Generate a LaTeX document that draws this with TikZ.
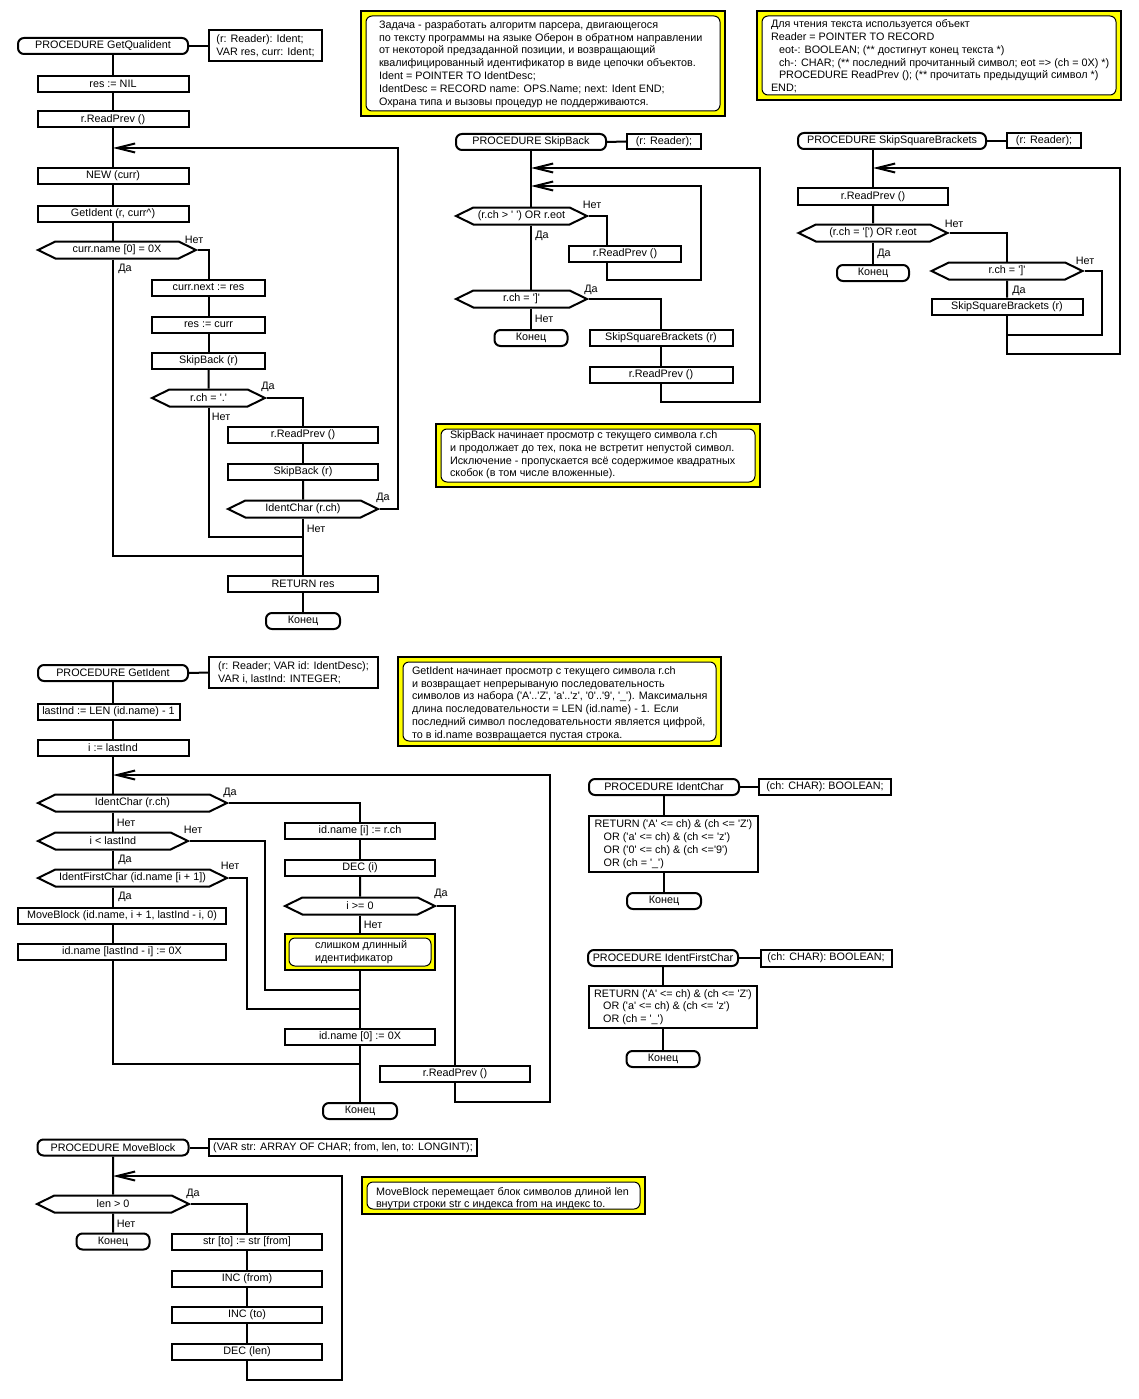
\documentclass[tikz,border=0pt]{standalone}
\usepackage{fontspec}
\newfontfamily\drkfont{Liberation Sans}
\usepackage{tikz}
\usetikzlibrary{shapes.symbols,arrows.meta}
\definecolor{drkyellow}{HTML}{FFFF00}

\begin{document}
\begin{tikzpicture}[x=1pt,y=-1pt,line width=2pt,
  font=\drkfont\fontsize{10.8}{12.8}\selectfont,
  act/.style={draw,rectangle,minimum height=16,inner sep=1pt},
  term/.style={draw,rectangle,rounded corners=6pt,minimum height=16,inner sep=1pt},
  cond/.style={draw,signal,signal to=east and west,signal pointer angle=52,minimum height=17,inner sep=1pt},
  parm/.style={draw,rectangle,align=left,inner sep=2pt},
  noteout/.style={draw,fill=drkyellow,inner sep=0pt},
  notein/.style={draw,line width=1pt,fill=white,rounded corners=6pt},
  notetxt/.style={anchor=west,align=left,inner sep=0pt},
  lbl/.style={inner sep=0pt},
  loopin/.style={-{Straight Barb[length=18pt,width=9pt]}}]
\useasboundingbox (0,0) rectangle (1139,1399);

% notes
\node[noteout,minimum width=364,minimum height=105] (tasknote) at (543,63.5) {};
\draw[notein] ([shift={(6,6)}]tasknote.north west) rectangle ([shift={(-6,-6)}]tasknote.south east);
\node[notetxt] (tasktxt) at (378,63.8) {Задача - разработать алгоритм парсера, двигающегося\\
  по тексту программы на языке Оберон в обратном направлении\\
  от некоторой предзаданной позиции, и возвращающий\\
  квалифицированный идентификатор в виде цепочки объектов.\\
  Ident = POINTER TO IdentDesc;\\
  IdentDesc = RECORD name: OPS.Name; next: Ident END;\\
  Охрана типа и вызовы процедур не поддерживаются.};

\node[noteout,minimum width=364,minimum height=89] (rdnote) at (939,55.5) {};
\draw[notein] ([shift={(6,6)}]rdnote.north west) rectangle ([shift={(-6,-6)}]rdnote.south east);
\node[notetxt] (rdtxt) at (770,56.5) {Для чтения текста используется объект\\
  Reader = POINTER TO RECORD\\
  \hspace*{8pt}eot-: BOOLEAN; (** достигнут конец текста *)\\
  \hspace*{8pt}ch-: CHAR; (** последний прочитанный символ; eot => (ch = 0X) *)\\
  \hspace*{8pt}PROCEDURE ReadPrev (); (** прочитать предыдущий символ *)\\
  END;};

\node[noteout,minimum width=324,minimum height=63] (sbnote) at (598,455.5) {};
\draw[notein] ([shift={(6,6)}]sbnote.north west) rectangle ([shift={(-6,-6)}]sbnote.south east);
\node[notetxt] (sbtxt) at (449,455) {SkipBack начинает просмотр с текущего символа r.ch\\
  и продолжает до тех, пока не встретит непустой символ.\\
  Исключение - пропускается всё содержимое квадратных\\
  скобок (в том числе вложенные).};

\node[noteout,minimum width=323,minimum height=89] (ginote) at (559.5,701.5) {};
\draw[notein] ([shift={(6,6)}]ginote.north west) rectangle ([shift={(-6,-6)}]ginote.south east);
\node[notetxt] (gitxt) at (411,703.5) {GetIdent начинает просмотр с текущего символа r.ch\\
  и возвращает непрерываную последовательность\\
  символов из набора ('A'..'Z', 'a'..'z', '0'..'9', '\_'). Максимальня\\
  длина последовательности = LEN (id.name) - 1. Если\\
  последний символ последовательности является цифрой,\\
  то в id.name возвращается пустая строка.};

\node[noteout,minimum width=283,minimum height=37] (mbnote) at (503.5,1195.5) {};
\draw[notein] ([shift={(6,6)}]mbnote.north west) rectangle ([shift={(-6,-6)}]mbnote.south east);
\node[notetxt] (mbtxt) at (375,1198.5) {MoveBlock перемещает блок символов длиной len\\
  внутри строки str с индекса from на индекс to.};

% GetQualident
\node[term,minimum width=170] (gq) at (103,46) {PROCEDURE GetQualident};
\node[parm,minimum width=113,minimum height=31] (gqp) at (265.5,46) {(r: Reader): Ident;\\VAR res, curr: Ident;};
\node[act,minimum width=151] (gq1) at (113,84) {res := NIL};
\node[act,minimum width=151] (gq2) at (113,119.5) {r.ReadPrev ()};
\coordinate (gql) at (113,148);
\node[act,minimum width=151] (gq3) at (113,176) {NEW (curr)};
\node[act,minimum width=151] (gq4) at (113,213.5) {GetIdent (r, curr\textasciicircum)};
\node[cond,minimum width=158] (gqc1) at (117,250) {curr.name [0] = 0X};
\node[act,minimum width=113] (gq5) at (208.5,287.5) {curr.next := res};
\node[act,minimum width=113] (gq6) at (208.5,324.5) {res := curr};
\node[act,minimum width=113] (gq7) at (208.5,361) {SkipBack (r)};
\node[cond,minimum width=113] (gqc2) at (208.5,398) {r.ch = '.'};
\node[act,minimum width=150] (gq8) at (303,435) {r.ReadPrev ()};
\node[act,minimum width=150] (gq9) at (303,472) {SkipBack (r)};
\node[cond,minimum width=150] (gqc3) at (303,509) {IdentChar (r.ch)};
\node[act,minimum width=150] (gq10) at (303,584) {RETURN res};
\node[term,minimum width=74] (gqend) at (303,621) {Конец};
\coordinate (gqj1) at (303,537);
\coordinate (gqj2) at (303,556);
\coordinate (gqr) at (398,148);
\node[lbl] (gqt1) at (194,240) {Нет};
\node[lbl] (gqt2) at (125,269) {Да};
\node[lbl] (gqt3) at (268,387) {Да};
\node[lbl] (gqt4) at (221,417) {Нет};
\node[lbl] (gqt5) at (383,498) {Да};
\node[lbl] (gqt6) at (316,529) {Нет};

\draw (gq.east) -- (gqp.west);
\draw (gq1 |- gq.south) -- (gq1.north);
\draw (gq1) -- (gq2);
\draw (gq2) -- (gq3);
\draw (gq3) -- (gq4);
\draw (gq4.south) -- (gq4.south |- gqc1.north);
\draw (gq4.south |- gqc1.south) |- (gqj2);
\draw (gqc1.east) -| (gq5.north);
\draw (gq5) -- (gq6);
\draw (gq6) -- (gq7);
\draw (gq7) -- (gqc2);
\draw (gqc2.east) -| (gq8.north);
\draw (gqc2.south) |- (gqj1);
\draw (gq8) -- (gq9);
\draw (gq9) -- (gqc3);
\draw[loopin] (gqc3.east) -| (gqr) -- (gql);
\draw (gqc3) -- (gq10);
\draw (gq10) -- (gqend);

% SkipBack
\node[term,minimum width=150] (sb) at (531,142) {PROCEDURE SkipBack};
\node[parm,minimum width=74,minimum height=15] (sbp) at (664,141.5) {(r: Reader);};
\coordinate (sbl1) at (531,168);
\coordinate (sbl2) at (531,186);
\node[cond,minimum width=131] (sbc1) at (521.5,216) {(r.ch > ' ') OR r.eot};
\node[act,minimum width=112] (sb1) at (625,254) {r.ReadPrev ()};
\node[cond,minimum width=131] (sbc2) at (521.5,299) {r.ch = ']'};
\node[term,minimum width=73] (sbend) at (531,338) {Конец};
\node[act,minimum width=143] (sb2) at (661,338) {SkipSquareBrackets (r)};
\node[act,minimum width=143] (sb3) at (661,375) {r.ReadPrev ()};
\coordinate (sbr1) at (607,280);
\coordinate (sbr2) at (701,280);
\coordinate (sbr3) at (760,402);
\node[lbl] (sbt1) at (592,205) {Нет};
\node[lbl] (sbt2) at (542,236) {Да};
\node[lbl] (sbt3) at (591,290) {Да};
\node[lbl] (sbt4) at (544,319) {Нет};

\draw (sb.east) -- (sbp.west);
\draw (sb.south) -- (sb.south |- sbc1.north);
\draw (sb.south |- sbc1.south) -- (sb.south |- sbc2.north);
\draw (sb.south |- sbc2.south) -- (sbend.north);
\draw (sbc1.east) -| (sbr1 |- sb1.north);
\draw[loopin] (sbr1 |- sb1.south) -- (sbr1) -- (sbr2) |- (sbl2);
\draw (sbc2.east) -| (sb2.north);
\draw (sb2) -- (sb3);
\draw[loopin] (sb3.south) |- (sbr3) |- (sbl1);

% SkipSquareBrackets
\node[term,minimum width=188] (ssb) at (892,141) {PROCEDURE SkipSquareBrackets};
\node[parm,minimum width=74,minimum height=15] (ssbp) at (1044,141) {(r: Reader);};
\coordinate (ssbl) at (873,168);
\node[act,minimum width=150] (ssb1) at (873,196.5) {r.ReadPrev ()};
\node[cond,minimum width=149] (ssbc1) at (873,233) {(r.ch = '[') OR r.eot};
\node[term,minimum width=72] (ssbend) at (873,273) {Конец};
\node[cond,minimum width=151] (ssbc2) at (1007,271) {r.ch = ']'};
\node[act,minimum width=151] (ssb2) at (1007,306.5) {SkipSquareBrackets (r)};
\coordinate (ssbr1) at (1102,335);
\coordinate (ssbr2) at (1120,354);
\node[lbl] (ssbt1) at (954,224) {Нет};
\node[lbl] (ssbt2) at (884,254) {Да};
\node[lbl] (ssbt3) at (1085,261) {Нет};
\node[lbl] (ssbt4) at (1019,291) {Да};

\draw (ssb.east) -- (ssbp.west);
\draw (ssb.south -| ssb1) -- (ssb1.north);
\draw (ssb1) -- (ssbc1);
\draw (ssbc1) -- (ssbend);
\draw (ssbc1.east) -| (ssbc2.north);
\draw (ssbc2) -- (ssb2);
\draw (ssbc2.east) -| (ssbr1) -- (ssb2.south |- ssbr1);
\draw[loopin] (ssb2.south) |- (ssbr2) |- (ssbl);

% GetIdent
\node[term,minimum width=150] (gi) at (113,673) {PROCEDURE GetIdent};
\node[parm,minimum width=169,minimum height=31] (gip) at (293.5,672.5) {(r: Reader; VAR id: IdentDesc);\\VAR i, lastInd: INTEGER;};
\node[act,minimum width=142] (gi1) at (108.5,711.5) {lastInd := LEN (id.name) - 1};
\node[act,minimum width=151] (gi2) at (113,748) {i := lastInd};
\coordinate (gil) at (113,775);
\node[cond,minimum width=189] (gic1) at (132.5,803) {IdentChar (r.ch)};
\node[cond,minimum width=150] (gic2) at (113,841) {i < lastInd};
\node[cond,minimum width=189] (gic3) at (132.5,878) {IdentFirstChar (id.name [i + 1])};
\node[act,minimum width=208] (gi3) at (122,915.5) {MoveBlock (id.name, i + 1, lastInd - i, 0)};
\node[act,minimum width=208] (gi4) at (122,952) {id.name [lastInd - i] := 0X};
\node[act,minimum width=150] (gi5) at (360,831) {id.name [i] := r.ch};
\node[act,minimum width=150] (gi6) at (360,868) {DEC (i)};
\node[cond,minimum width=150] (gic4) at (360,906) {i >= 0};
\node[noteout,minimum width=150,minimum height=36] (gin) at (360,952) {};
\draw[notein] ([shift={(5,5)}]gin.north west) rectangle ([shift={(-5,-5)}]gin.south east);
\node[notetxt] (gintxt) at (314,952.5) {слишком длинный\\идентификатор};
\node[act,minimum width=150] (gi7) at (360,1037) {id.name [0] := 0X};
\node[act,minimum width=150] (gi8) at (455,1074) {r.ReadPrev ()};
\node[term,minimum width=74] (giend) at (360,1111) {Конец};
\coordinate (gij1) at (360,990);
\coordinate (gij2) at (360,1009);
\coordinate (gij3) at (360,1064);
\coordinate (gix1) at (265,990);
\coordinate (gix2) at (247,1009);
\coordinate (gir) at (550,1102);
\node[lbl] (git1) at (230,793) {Да};
\node[lbl] (git2) at (126,823) {Нет};
\node[lbl] (git3) at (193,830) {Нет};
\node[lbl] (git4) at (125,860) {Да};
\node[lbl] (git5) at (230,866) {Нет};
\node[lbl] (git6) at (125,897) {Да};
\node[lbl] (git7) at (441,894) {Да};
\node[lbl] (git8) at (373,925) {Нет};

\draw (gi.east) -- (gip.west);
\draw (gi.south) -- (gi.south |- gi1.north);
\draw (gi.south |- gi1.south) -- (gi2.north);
\draw (gi2.south) -- (gi2.south |- gic1.north);
\draw (gi2.south |- gic1.south) -- (gic2.north);
\draw (gic2.south) -- (gic2.south |- gic3.north);
\draw (gic2.south |- gic3.south) -- (gic2.south |- gi3.north);
\draw (gic2.south |- gi3.south) -- (gic2.south |- gi4.north);
\draw (gic2.south |- gi4.south) |- (gij3);
\draw (gic1.east) -| (gi5.north);
\draw (gi5) -- (gi6);
\draw (gi6) -- (gic4);
\draw (gic4) -- (gin);
\draw (gin) -- (gi7);
\draw (gi7) -- (giend);
\draw (gic2.east) -| (gix1) -- (gij1);
\draw (gic3.east) -| (gix2) -- (gij2);
\draw (gic4.east) -| (gi8.north);
\draw[loopin] (gi8.south) |- (gir) |- (gil);

% IdentChar
\node[term,minimum width=150] (ic) at (664,787) {PROCEDURE IdentChar};
\node[parm,minimum width=132,minimum height=16] (icp) at (825,787) {(ch: CHAR): BOOLEAN;};
\node[act,minimum width=169,minimum height=56,align=left] (ic1) at (673.5,844) {RETURN ('A' <= ch) \& (ch <= 'Z')\\
  \hspace*{9pt}OR ('a' <= ch) \& (ch <= 'z')\\
  \hspace*{9pt}OR ('0' <= ch) \& (ch <='9')\\
  \hspace*{9pt}OR (ch = '\_')};
\node[term,minimum width=74] (icend) at (664,901) {Конец};

\draw (ic.east) -- (icp.west);
\draw (ic.south) -- (ic.south |- ic1.north);
\draw (ic.south |- ic1.south) -- (icend.north);

% IdentFirstChar
\node[term,minimum width=150] (ifc) at (663,958) {PROCEDURE IdentFirstChar};
\node[parm,minimum width=131,minimum height=17] (ifcp) at (826,958) {(ch: CHAR): BOOLEAN;};
\node[act,minimum width=168,minimum height=42,align=left] (ifc1) at (673,1007) {RETURN ('A' <= ch) \& (ch <= 'Z')\\
  \hspace*{9pt}OR ('a' <= ch) \& (ch <= 'z')\\
  \hspace*{9pt}OR (ch = '\_')};
\node[term,minimum width=73] (ifcend) at (663,1059) {Конец};

\draw (ifc.east) -- (ifcp.west);
\draw (ifc.south) -- (ifc.south |- ifc1.north);
\draw (ifc.south |- ifc1.south) -- (ifcend.north);

% MoveBlock
\node[term,minimum width=151] (mb) at (113,1147.5) {PROCEDURE MoveBlock};
\node[parm,minimum width=268,minimum height=17] (mbp) at (343,1147.5) {(VAR str: ARRAY OF CHAR; from, len, to: LONGINT);};
\coordinate (mbl) at (113,1176);
\node[cond,minimum width=152] (mbc) at (113,1204) {len > 0};
\node[term,minimum width=73] (mbend) at (113,1241.5) {Конец};
\node[act,minimum width=150] (mb1) at (247,1241.5) {str [to] := str [from]};
\node[act,minimum width=150] (mb2) at (247,1278.5) {INC (from)};
\node[act,minimum width=150] (mb3) at (247,1315) {INC (to)};
\node[act,minimum width=150] (mb4) at (247,1352) {DEC (len)};
\coordinate (mbr) at (342,1380);
\node[lbl] (mbt1) at (193,1194) {Да};
\node[lbl] (mbt2) at (126,1224) {Нет};

\draw (mb.east) -- (mbp.west);
\draw (mb) -- (mbc);
\draw (mbc) -- (mbend);
\draw (mbc.east) -| (mb1.north);
\draw (mb1) -- (mb2);
\draw (mb2) -- (mb3);
\draw (mb3) -- (mb4);
\draw[loopin] (mb4.south) |- (mbr) |- (mbl);
\end{tikzpicture}
\end{document}
